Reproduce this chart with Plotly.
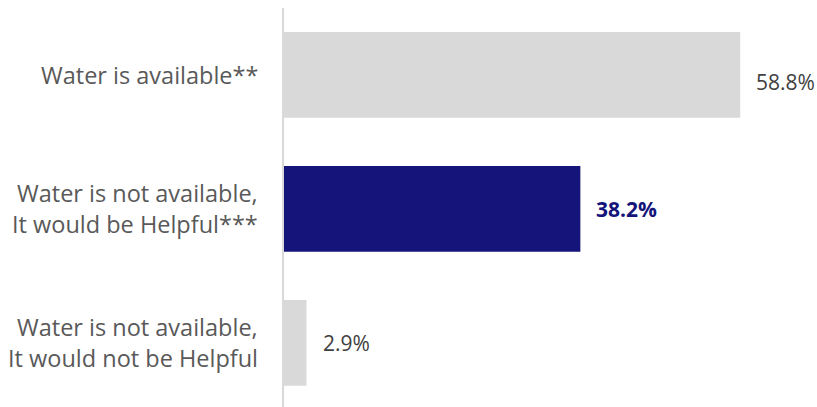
import plotly.graph_objects as go

categories = ["Water is available**",
              "Water is not available,<br>It would be Helpful***",
              "Water is not available,<br>It would not be Helpful"]
values = [58.8, 38.2, 2.9]
bar_colors = ["#d9d9d9", "#14147a", "#d9d9d9"]
label_colors = ["#404040", "#14147a", "#404040"]
label_bold = [False, True, False]
label_yshift = [-7, 0, 0]

FONT = "Open Sans"
fig = go.Figure(go.Bar(
    x=values, y=categories, orientation="h",
    marker=dict(color=bar_colors, line=dict(width=0)),
    width=0.64, hoverinfo="skip",
))

annotations = []
for cat, v, c, b, ys in zip(categories, values, label_colors, label_bold, label_yshift):
    txt = f"{v:.1f}%"
    if b:
        txt = f"<b>{txt}</b>"
    annotations.append(dict(x=v, y=cat, xref="x", yref="y", text=txt,
                            showarrow=False, xanchor="left", xshift=14, yshift=ys,
                            font=dict(family=FONT, size=21, color=c)))
    lines = cat.split("<br>")
    n = len(lines)
    for i, ln in enumerate(lines):
        annotations.append(dict(x=0, y=cat, xref="x", yref="y", text=ln,
                                showarrow=False, xanchor="right", xshift=-24,
                                yshift=(n - 1) / 2 * 31 - i * 31,
                                font=dict(family=FONT, size=23.5, color="#595959")))

fig.update_layout(
    width=817, height=407,
    margin=dict(l=284, r=0, t=8, b=0),
    plot_bgcolor="white", paper_bgcolor="white",
    showlegend=False,
    annotations=annotations,
    xaxis=dict(range=[0, 68.7], visible=False, fixedrange=True),
    yaxis=dict(type="category", categoryorder="array", categoryarray=categories,
               range=[2.478, -0.5], showticklabels=False, ticks="",
               showgrid=False, zeroline=False, fixedrange=True,
               showline=True, linecolor="#d9d9d9", linewidth=2),
)

fig.write_html("out.html", config={"displayModeBar": False},
               post_script="document.body.style.margin='0';")
